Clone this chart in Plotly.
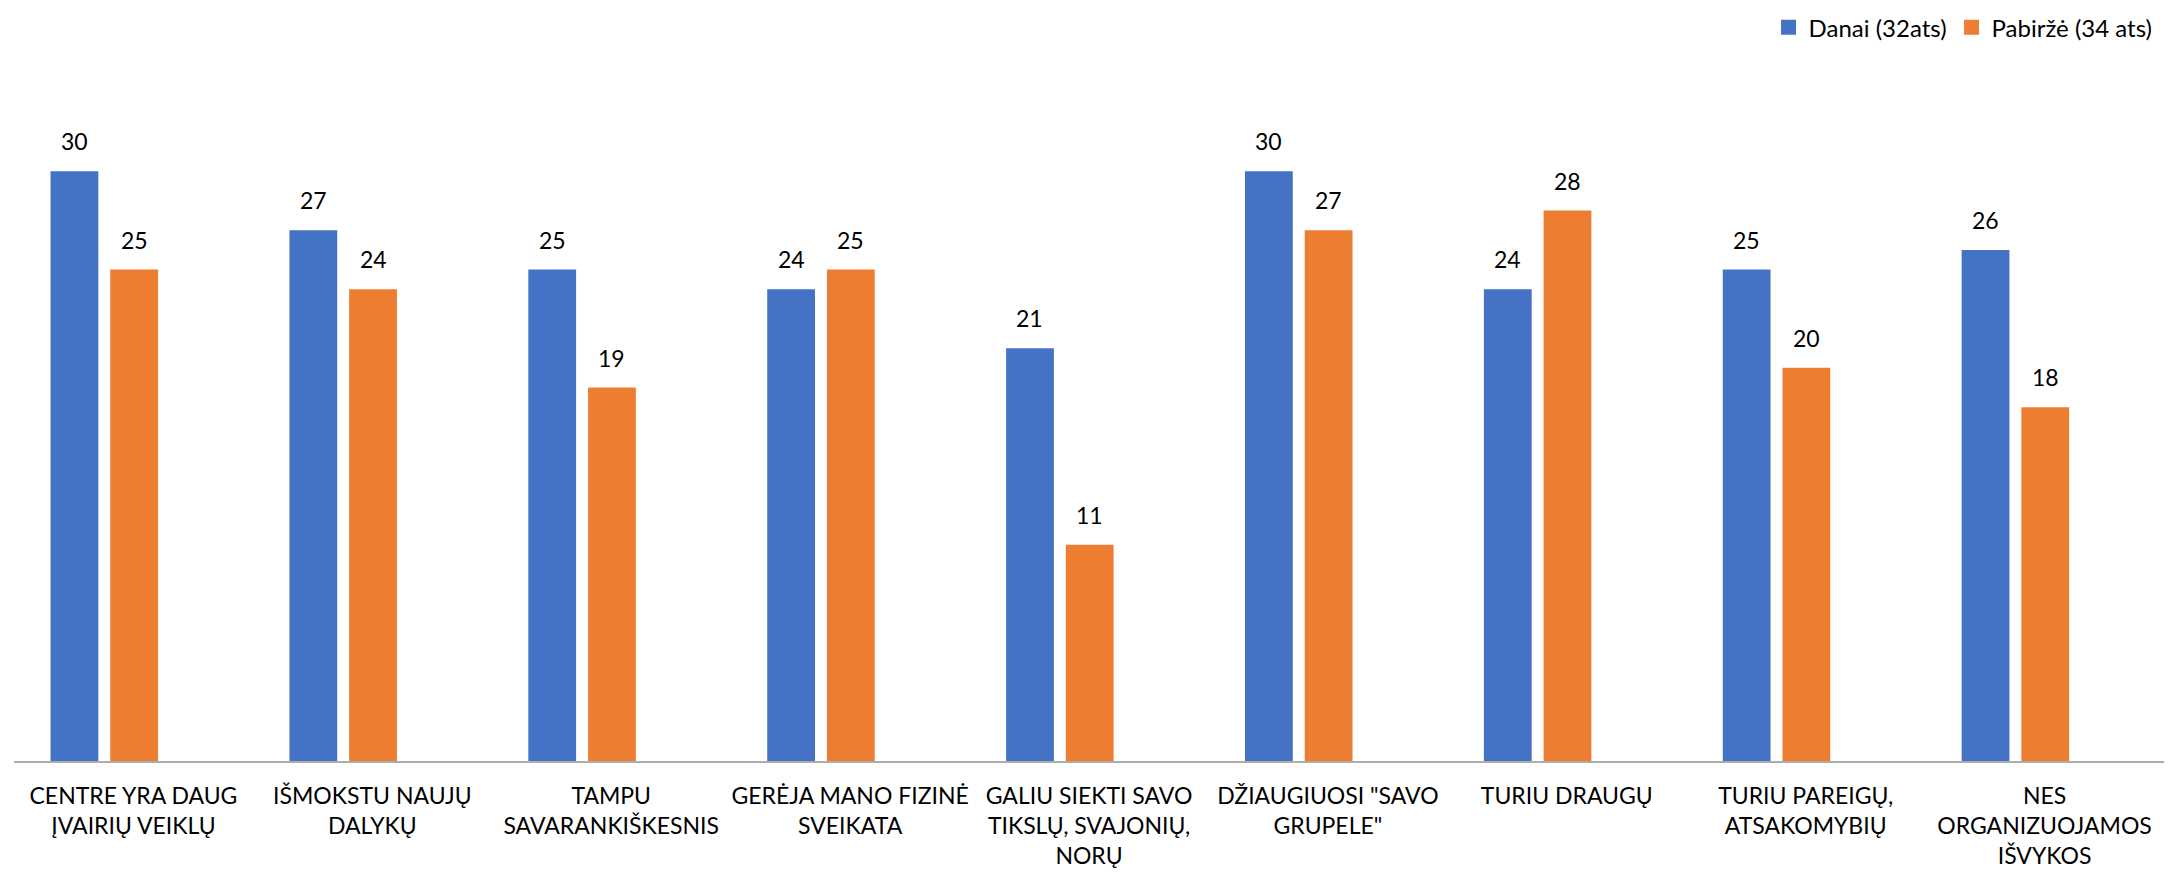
import plotly.graph_objects as go

categories = [
    "CENTRE YRA DAUG<br>ĮVAIRIŲ VEIKLŲ",
    "IŠMOKSTU NAUJŲ<br>DALYKŲ",
    "TAMPU<br>SAVARANKIŠKESNIS",
    "GERĖJA MANO FIZINĖ<br>SVEIKATA",
    "GALIU SIEKTI SAVO<br>TIKSLŲ, SVAJONIŲ,<br>NORŲ",
    "DŽIAUGIUOSI \"SAVO<br>GRUPELE\"",
    "TURIU DRAUGŲ",
    "TURIU PAREIGŲ,<br>ATSAKOMYBIŲ",
    "NES<br>ORGANIZUOJAMOS<br>IŠVYKOS",
]
danai = [30, 27, 25, 24, 21, 30, 24, 25, 26]
pabirze = [25, 24, 19, 25, 11, 27, 28, 20, 18]
series_names = ["Danai (32ats)", "Pabiržė (34 ats)"]
colors = ["#4472C4", "#ED7D31"]

FONT = "Lato, 'Open Sans', 'Liberation Sans', sans-serif"
bar_width = 0.2
offsets = [-0.347, -0.097]

fig = go.Figure()
annotations = []
for name, vals, col, off in zip(series_names, [danai, pabirze], colors, offsets):
    fig.add_trace(go.Bar(
        x=list(range(len(categories))), y=vals, name=name,
        marker=dict(color=col, line=dict(width=0)),
        width=bar_width, offset=off, showlegend=False, legendgroup=name,
    ))
    # legend entry with a larger square swatch
    fig.add_trace(go.Scatter(
        x=[None], y=[None], mode="markers", name=name, legendgroup=name,
        marker=dict(symbol="square", size=15, color=col), showlegend=True,
    ))
    for i, v in enumerate(vals):
        annotations.append(dict(
            x=i + off + bar_width / 2, y=v, xref="x", yref="y",
            text=str(v), showarrow=False, yanchor="bottom", yshift=14,
            font=dict(family=FONT, size=23, color="#000000"),
        ))

fig.update_layout(
    width=2182, height=875,
    margin=dict(l=6, r=26, t=65, b=122, autoexpand=False),
    paper_bgcolor="white", plot_bgcolor="white",
    barmode="overlay",
    showlegend=True,
    legend=dict(
        orientation="h", x=0.997, xanchor="right", y=1.066, yref="paper",
        yanchor="middle", font=dict(family=FONT, size=24, color="#000000"),
        itemwidth=30, traceorder="normal", bgcolor="rgba(0,0,0,0)",
    ),
    annotations=annotations,
    xaxis=dict(
        tickmode="array", tickvals=list(range(len(categories))), ticktext=categories,
        range=[-0.5, len(categories) - 0.5],
        showline=True, linecolor="#ADADAD", linewidth=1.5,
        showgrid=False, zeroline=False, ticks="",
        tickfont=dict(family=FONT, size=23, color="#000000"),
        ticklabelstandoff=14, automargin=False,
    ),
    yaxis=dict(
        range=[0, 35], showgrid=False, zeroline=False, showticklabels=False,
        showline=False, ticks="", automargin=False,
    ),
)

fig.write_html("out.html")
